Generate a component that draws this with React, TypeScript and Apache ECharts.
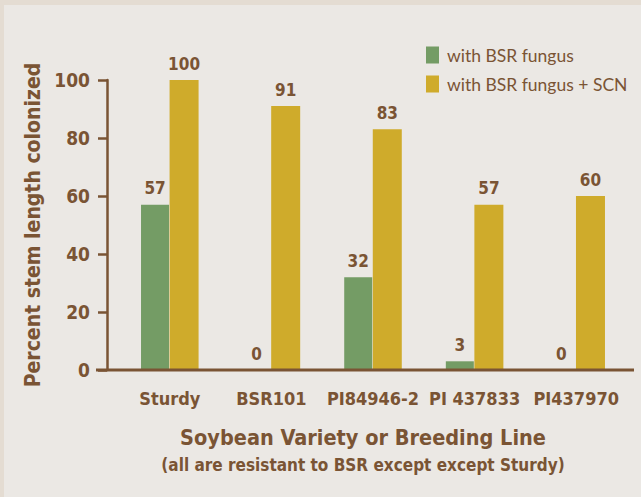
import React, { useEffect, useRef } from "react";
import * as echarts from "echarts";

const categories = ["Sturdy", "BSR101", "PI84946-2", "PI 437833", "PI437970"];
const fungusOnly = [57, 0, 32, 3, 0];
const fungusSCN = [100, 91, 83, 57, 60];
const yTicks = [0, 20, 40, 60, 80, 100];

const BROWN = "#7a5434";
const NARROW = '"DejaVu Sans Condensed", "Liberation Sans", sans-serif';

export default function App() {
  const ref = useRef<HTMLDivElement>(null);
  useEffect(() => {
    if (!ref.current) return;
    const chart = echarts.init(ref.current, null, { renderer: "svg" });
    chart.setOption({
      animation: false,
      backgroundColor: "#ebe8e4",
      grid: { left: 115, right: 14, top: 75, bottom: 127 },
      legend: {
        orient: "vertical",
        left: 422,
        top: 41,
        padding: 0,
        itemWidth: 13,
        itemHeight: 17,
        itemGap: 11,
        icon: "rect",
        textStyle: { color: BROWN, fontSize: 17.5, fontFamily: "Lato", padding: [0, 0, 0, 3] },
        data: ["with BSR fungus", "with BSR fungus + SCN"],
      },
      xAxis: {
        type: "category",
        data: categories,
        axisLine: { show: false },
        axisTick: { show: false },
        axisLabel: {
          color: BROWN,
          fontSize: 18,
          fontWeight: "bold",
          fontFamily: NARROW,
          margin: 19,
          interval: 0,
        },
      },
      yAxis: {
        type: "value",
        min: yTicks[0],
        max: yTicks[yTicks.length - 1],
        interval: 20,
        offset: 12,
        splitLine: { show: false },
        axisLine: { show: true, lineStyle: { color: BROWN, width: 2.5 } },
        axisTick: { show: true, length: 9, lineStyle: { color: BROWN, width: 2.5 } },
        axisLabel: {
          color: BROWN,
          fontSize: 19,
          fontWeight: "bold",
          fontFamily: NARROW,
          margin: 17,
        },
        name: "Percent stem length colonized",
        nameLocation: "middle",
        nameGap: 59,
        nameTextStyle: { color: BROWN, fontSize: 21, fontWeight: "bold", fontFamily: NARROW },
      },
      series: [
        {
          name: "with BSR fungus",
          type: "bar",
          data: fungusOnly,
          barWidth: 28,
          barGap: "2%",
          itemStyle: { color: "#749c65" },
          label: {
            show: true,
            position: "top",
            distance: 8,
            color: BROWN,
            fontSize: 17,
            fontWeight: "bold",
            fontFamily: NARROW,
          },
        },
        {
          name: "with BSR fungus + SCN",
          type: "bar",
          data: fungusSCN,
          barWidth: 29,
          itemStyle: { color: "#cfab2b" },
          label: {
            show: true,
            position: "top",
            distance: 8,
            color: BROWN,
            fontSize: 17,
            fontWeight: "bold",
            fontFamily: NARROW,
          },
        },
      ],
      graphic: [
        {
          type: "line",
          shape: { x1: 92, y1: 365, x2: 630, y2: 365 },
          style: { stroke: BROWN, lineWidth: 3 },
          z: 10,
        },
        {
          type: "text",
          x: 359,
          y: 432,
          style: {
            text: "Soybean Variety or Breeding Line",
            fill: BROWN,
            fontSize: 21.5,
            fontWeight: "bold",
            fontFamily: NARROW,
            textAlign: "center",
            textVerticalAlign: "middle",
          },
        },
        {
          type: "text",
          x: 359,
          y: 460,
          style: {
            text: "(all are resistant to BSR except except Sturdy)",
            fill: BROWN,
            fontSize: 17,
            fontWeight: "bold",
            fontFamily: NARROW,
            textAlign: "center",
            textVerticalAlign: "middle",
          },
        },
      ],
    });
    return () => chart.dispose();
  }, []);
  return (
    <div style={{ position: "fixed", left: 0, top: 0, width: 641, height: 497, background: "#e4dcd2" }}>
      <div ref={ref} style={{ position: "absolute", left: 4, top: 5, width: 637, height: 492 }} />
    </div>
  );
}
